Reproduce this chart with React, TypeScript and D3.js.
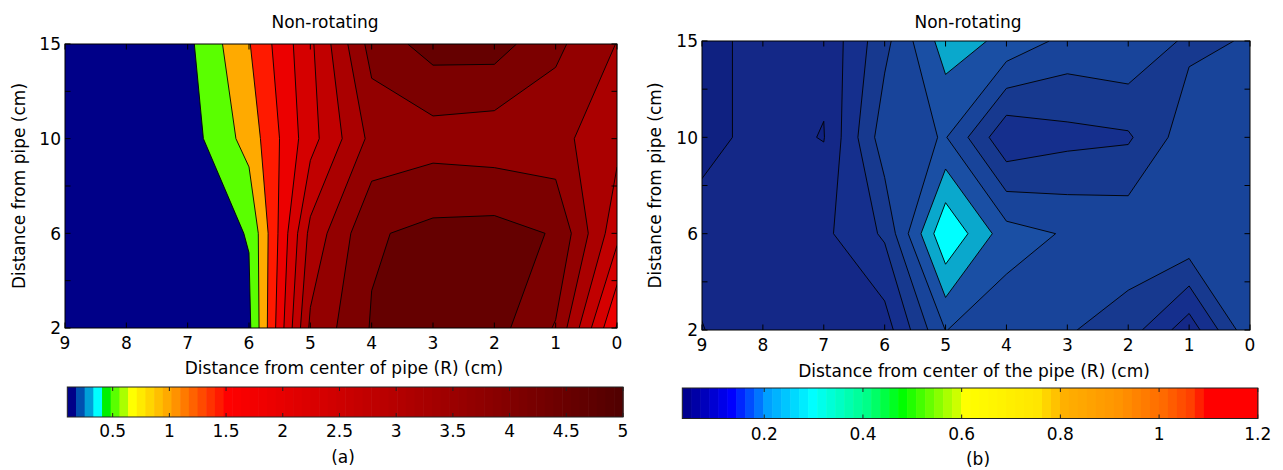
import React from 'react';
import * as d3 from 'd3';

// radial position (cm), drawn left to right
const radius = [9, 8, 7, 6, 5, 4, 3, 2, 1, 0];
// height above the pipe (cm), bottom row first
const heights = [2, 6, 10, 15];

// (a) one array per height, values follow `radius`
const meanAt2 = [0.1, 0.14, 0.23, 0.45, 3.75, 4.59, 5.0, 4.73, 4.07, 1.84];
const meanAt6 = [0.12, 0.17, 0.28, 0.57, 3.35, 4.5, 4.68, 4.72, 4.52, 2.91];
const meanAt10 = [0.14, 0.19, 0.33, 1.17, 2.6, 3.79, 3.91, 3.84, 3.8, 3.35];
const meanAt15 = [0.14, 0.19, 0.44, 1.41, 2.68, 4.29, 4.74, 4.75, 4.21, 3.65];

// (b)
const flucAt2 = [0.048, 0.086, 0.08, 0.075, 0.251, 0.221, 0.205, 0.174, 0.07, 0.237];
const flucAt6 = [0.07, 0.075, 0.089, 0.158, 0.396, 0.271, 0.245, 0.237, 0.245, 0.24];
const flucAt10 = [0.035, 0.065, 0.048, 0.23, 0.253, 0.109, 0.134, 0.143, 0.23, 0.23];
const flucAt15 = [0.035, 0.065, 0.06, 0.185, 0.325, 0.288, 0.234, 0.246, 0.189, 0.204];

const levelsB = [0.05, 0.1, 0.15, 0.2, 0.25, 0.3, 0.35];
const cbTicksA = [0.5, 1, 1.5, 2, 2.5, 3, 3.5, 4, 4.5, 5];
const cbTicksB = [0.2, 0.4, 0.6, 0.8, 1, 1.2];
const cbRangeB = [0.034, 1.2];

// colour maps (64 entries), given as anchor stops
const stopsA: [number, string][] = [
  [0, '#000088'], [1, '#0050b0'], [2, '#00a0d8'], [3, '#00ffff'], [4, '#00f000'],
  [5, '#5aff00'], [6, '#aaff00'], [7, '#ffff00'], [11, '#ffaa00'], [17, '#ff1a00'],
  [18, '#ff0000'], [63, '#520000'],
];
const stopsB: [number, string][] = [
  [0, '#000090'], [5, '#0000ff'], [7.5, '#0060ff'], [9, '#00a0ff'], [14, '#00ffff'],
  [20, '#00ff88'], [24, '#00ff00'], [27, '#66ff00'], [30, '#ccff00'], [31, '#ffff00'],
  [39, '#ffe600'], [42, '#ffb000'], [48, '#ff9400'], [53, '#ff6a00'], [56, '#ff4000'],
  [58, '#ff0000'], [63, '#ff0000'],
];
const fillsB = ['#0f2181', '#142887', '#152f8d', '#17398f', '#18449a', '#1a4fa4', '#0aa8cc', '#00ffff'];

const font = 'DejaVu Sans';
const fs = 17;

function buildMap(stops: [number, string][]) {
  const s = d3.scaleLinear<string>()
    .domain(stops.map((d) => d[0]))
    .range(stops.map((d) => d[1]))
    .interpolate(d3.interpolateRgb);
  return d3.range(64).map((i) => s(i));
}

function Panel(p: any) {
  const { id, frame, rows, levels, fills, title, xLabel, cb, cbDomain, cbColors, cbTicks, lay } = p;
  const nx = radius.length;
  const ny = heights.length;
  const values = rows.flat();

  const x = d3.scaleLinear().domain([d3.max(radius)!, d3.min(radius)!]).range([frame.left, frame.right]);
  const col = d3.scaleLinear().domain([0, nx - 1]).range([frame.left, frame.right]);
  const row = d3.scaleLinear().domain([0, ny - 1]).range([frame.bottom, frame.top]);

  const bands = d3.contours().size([nx, ny]).thresholds(levels)(values);
  const proj = d3.geoTransform({
    point(px: number, py: number) {
      (this as any).stream.point(col(px - 0.5), row(py - 0.5));
    },
  });
  const path = d3.geoPath(proj);

  const yTicks = d3.range(0, ny - 1 + 0.25, 0.5);
  const cbX = d3.scaleLinear().domain(cbDomain).range([cb.x0, cb.x1]);
  const segW = (cb.x1 - cb.x0) / cbColors.length;
  const tl = 5.5;
  const ctl = 4;

  return (
    <g>
      <defs>
        <clipPath id={`clip-${id}`}>
          <rect x={frame.left} y={frame.top} width={frame.right - frame.left} height={frame.bottom - frame.top} />
        </clipPath>
      </defs>
      <g clipPath={`url(#clip-${id})`}>
        <rect x={frame.left} y={frame.top} width={frame.right - frame.left} height={frame.bottom - frame.top} fill={fills[0]} />
        {bands.map((b, i) => (
          <path key={`f${i}`} d={path(b as any) || ''} fill={fills[i + 1]} fillRule="evenodd" stroke="none" />
        ))}
        {bands.map((b, i) => (
          <path key={`s${i}`} d={path(b as any) || ''} fill="none" stroke="#000" strokeWidth={0.9} />
        ))}
      </g>
      <rect x={frame.left} y={frame.top} width={frame.right - frame.left} height={frame.bottom - frame.top} fill="none" stroke="#000" strokeWidth={1} />

      {radius.map((r) => (
        <g key={`xt${r}`}>
          <line x1={x(r)} x2={x(r)} y1={frame.bottom} y2={frame.bottom - tl} stroke="#000" />
          <line x1={x(r)} x2={x(r)} y1={frame.top} y2={frame.top + tl} stroke="#000" />
          <text x={x(r)} y={lay.xTickY} textAnchor="middle" fontFamily={font} fontSize={fs}>{r}</text>
        </g>
      ))}
      {yTicks.map((t) => (
        <g key={`yt${t}`}>
          <line x1={frame.left} x2={frame.left + tl} y1={row(t)} y2={row(t)} stroke="#000" />
          <line x1={frame.right} x2={frame.right - tl} y1={row(t)} y2={row(t)} stroke="#000" />
          {Number.isInteger(t) && (
            <text x={frame.left - 4} y={row(t) + 6.2} textAnchor="end" fontFamily={font} fontSize={fs}>{heights[t]}</text>
          )}
        </g>
      ))}

      <text x={lay.titleX} y={lay.titleY} textAnchor="middle" fontFamily={font} fontSize={fs}>{title}</text>
      <text x={lay.xLabelX} y={lay.xLabelY} textAnchor="middle" fontFamily={font} fontSize={fs}>{xLabel}</text>
      <text transform={`translate(${lay.yLabelX},${(frame.top + frame.bottom) / 2}) rotate(-90)`} textAnchor="middle" fontFamily={font} fontSize={fs}>
        Distance from pipe (cm)
      </text>

      {cbColors.map((c: string, i: number) => (
        <rect key={`cb${i}`} x={cb.x0 + i * segW} y={cb.y0} width={segW + 0.6} height={cb.y1 - cb.y0} fill={c} />
      ))}
      <rect x={cb.x0} y={cb.y0} width={cb.x1 - cb.x0} height={cb.y1 - cb.y0} fill="none" stroke="#222" strokeWidth={1} />
      {cbTicks.map((t: number) => (
        <g key={`ct${t}`}>
          <line x1={cbX(t)} x2={cbX(t)} y1={cb.y0} y2={cb.y0 + ctl} stroke="#222" />
          <line x1={cbX(t)} x2={cbX(t)} y1={cb.y1} y2={cb.y1 - ctl} stroke="#222" />
          <text x={cbX(t)} y={lay.cbLabelY} textAnchor="middle" fontFamily={font} fontSize={fs}>{t}</text>
        </g>
      ))}
      <text x={lay.letterX} y={lay.letterY} textAnchor="middle" fontFamily={font} fontSize={fs}>{lay.letter}</text>
    </g>
  );
}

export default function App() {
  const rowsA = [meanAt2, meanAt6, meanAt10, meanAt15];
  const rowsB = [flucAt2, flucAt6, flucAt10, flucAt15];

  const [minA, maxA] = d3.extent(rowsA.flat()) as [number, number];
  // MATLAB style: ten levels evenly spaced inside the data range
  const levelsA = d3.range(1, 11).map((k) => minA + (k * (maxA - minA)) / 11);
  const mapA = buildMap(stopsA);
  const mapB = buildMap(stopsB);
  const seg = (v: number) => Math.min(63, Math.floor(((v - minA) / (maxA - minA)) * 64));
  const fillsA = [mapA[0], ...levelsA.map((l) => mapA[seg(l)])];

  return (
    <svg width={1283} height={470} style={{ position: 'absolute', left: 0, top: 0, background: '#fff' }}>
      <Panel
        id="a"
        frame={{ left: 65, right: 617, top: 44, bottom: 328 }}
        rows={rowsA}
        levels={levelsA}
        fills={fillsA}
        title="Non-rotating"
        xLabel="Distance from center of pipe (R) (cm)"
        cb={{ x0: 67.3, x1: 623, y0: 387, y1: 417 }}
        cbDomain={[minA, maxA]}
        cbColors={mapA}
        cbTicks={cbTicksA}
        lay={{ xTickY: 349, titleX: 325, titleY: 28, xLabelX: 344, xLabelY: 374, yLabelX: 24.5, cbLabelY: 437, letter: '(a)', letterX: 343, letterY: 463 }}
      />
      <Panel
        id="b"
        frame={{ left: 702, right: 1250, top: 41, bottom: 330 }}
        rows={rowsB}
        levels={levelsB}
        fills={fillsB}
        title="Non-rotating"
        xLabel="Distance from center of the pipe (R) (cm)"
        cb={{ x0: 682.3, x1: 1257.8, y0: 388, y1: 418.5 }}
        cbDomain={cbRangeB}
        cbColors={mapB}
        cbTicks={cbTicksB}
        lay={{ xTickY: 350.6, titleX: 968, titleY: 28, xLabelX: 974, xLabelY: 377, yLabelX: 660.5, cbLabelY: 440, letter: '(b)', letterX: 978, letterY: 465 }}
      />
    </svg>
  );
}
